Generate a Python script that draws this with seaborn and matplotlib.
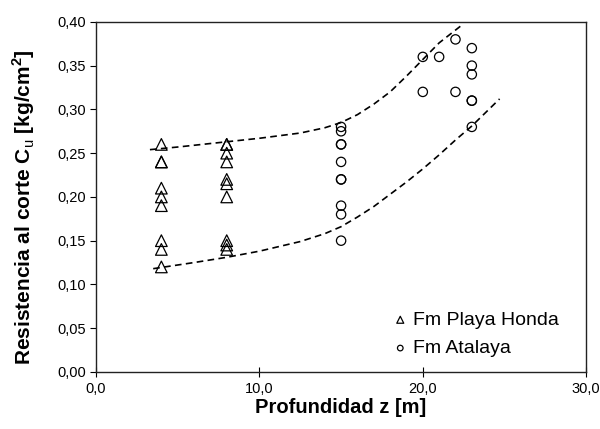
import numpy as np
import pandas as pd
import matplotlib
matplotlib.use('Agg')
import matplotlib.pyplot as plt
import seaborn as sns

# Fm Playa Honda (triangles)
z_playa = [4, 4, 4, 4, 4, 4, 4, 4, 4,
           8, 8, 8, 8, 8, 8, 8, 8, 8, 8]
cu_playa = [0.26, 0.24, 0.24, 0.21, 0.20, 0.19, 0.15, 0.14, 0.12,
            0.26, 0.26, 0.25, 0.24, 0.22, 0.215, 0.20, 0.15, 0.145, 0.14]

# Fm Atalaya (circles)
z_atalaya = [15, 15, 15, 15, 15, 15, 15, 15, 15, 15,
             20, 20, 21, 22, 22, 23, 23, 23, 23, 23, 23]
cu_atalaya = [0.28, 0.275, 0.26, 0.26, 0.24, 0.22, 0.22, 0.19, 0.18, 0.15,
              0.36, 0.32, 0.36, 0.38, 0.32, 0.37, 0.35, 0.34, 0.31, 0.31, 0.28]

# envelope curves
z_upper = [3.3, 5, 8, 10, 12.5, 14, 15, 16, 17, 18, 19, 20, 21, 22.3]
cu_upper = [0.254, 0.257, 0.263, 0.267, 0.273, 0.279, 0.285, 0.294, 0.306,
            0.320, 0.338, 0.357, 0.376, 0.395]
z_lower = [3.5, 6, 8, 10, 12.5, 14, 15, 16, 17, 18, 19, 20, 21, 22, 23, 24.7]
cu_lower = [0.118, 0.125, 0.131, 0.138, 0.149, 0.158, 0.166, 0.177, 0.189,
            0.203, 0.217, 0.232, 0.248, 0.265, 0.281, 0.312]

x_ticks = [0, 10, 20, 30]
y_ticks = [0.0, 0.05, 0.10, 0.15, 0.20, 0.25, 0.30, 0.35, 0.40]

sns.set_style('ticks')
plt.rcParams['font.family'] = ['Liberation Sans', 'DejaVu Sans']
plt.rcParams['mathtext.fontset'] = 'custom'
plt.rcParams['mathtext.rm'] = 'Liberation Sans'
plt.rcParams['mathtext.bf'] = 'Liberation Sans:bold'
plt.rcParams['text.color'] = 'black'
plt.rcParams['axes.labelcolor'] = 'black'

fig = plt.figure(figsize=(6, 4.29), dpi=100)
ax = fig.add_axes([0.16, 0.133, 0.817, 0.816])

df_p = pd.DataFrame({'z': z_playa, 'cu': cu_playa})
df_a = pd.DataFrame({'z': z_atalaya, 'cu': cu_atalaya})
df_up = pd.DataFrame({'z': z_upper, 'cu': cu_upper})
df_lo = pd.DataFrame({'z': z_lower, 'cu': cu_lower})

# dashed envelope lines
for d in (df_up, df_lo):
    sns.lineplot(data=d, x='z', y='cu', ax=ax, color='black', lw=1.2,
                 linestyle=(0, (4, 2.6)), zorder=2)

sns.scatterplot(data=df_p, x='z', y='cu', ax=ax, marker='^', s=70,
                facecolor='none', edgecolor='black', linewidth=0.9,
                label='Fm Playa Honda', zorder=3)
sns.scatterplot(data=df_a, x='z', y='cu', ax=ax, marker='o', s=45,
                facecolor='none', edgecolor='black', linewidth=0.9,
                label='Fm Atalaya', zorder=3)

ax.set_xlim(0, 30)
ax.set_ylim(0, 0.40)
ax.set_xticks(x_ticks)
ax.set_yticks(y_ticks)
ax.set_xticklabels([f'{t:.1f}'.replace('.', ',') for t in x_ticks])
ax.set_yticklabels([f'{t:.2f}'.replace('.', ',') for t in y_ticks])
ax.tick_params(axis='both', labelsize=10.5, colors='black', width=0.8)
ax.tick_params(axis='x', direction='inout', length=7, pad=4)
ax.tick_params(axis='y', direction='out', length=4, pad=3)

for sp in ax.spines.values():
    sp.set_visible(True)
    sp.set_color('#222222')
    sp.set_linewidth(1.0)

ax.set_xlabel('Profundidad z [m]', fontsize=14.5, fontweight='bold', labelpad=1)
ax.set_ylabel(r'Resistencia al corte C$_\mathrm{u}$ [kg/cm$^\mathbf{2}$]',
              fontsize=15, fontweight='bold')
ax.yaxis.set_label_coords(-0.12, 0.47)

leg = ax.legend(loc='lower left', bbox_to_anchor=(0.585, 0.02), frameon=False,
                fontsize=14, markerscale=0.6, handletextpad=0.15,
                labelspacing=0.55, handlelength=1.0, borderaxespad=0)

fig.savefig('out.png', dpi=100)
